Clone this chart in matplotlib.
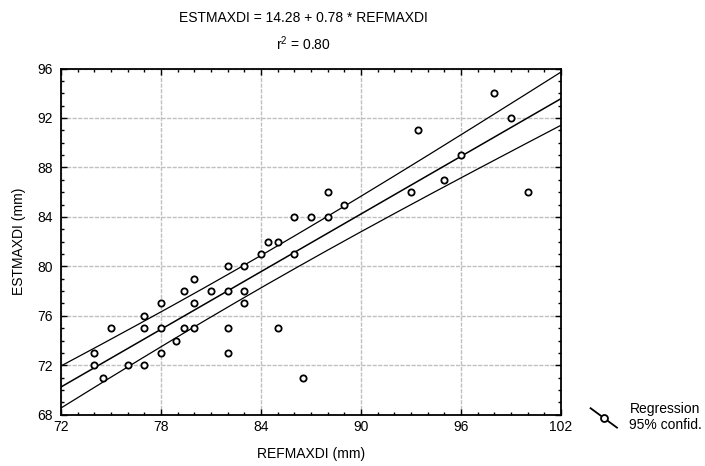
import numpy as np
import matplotlib
matplotlib.use("Agg")
from matplotlib import pyplot as plt
from matplotlib.lines import Line2D
from matplotlib.ticker import MultipleLocator

plt.rcParams['font.family'] = ['Liberation Sans', 'DejaVu Sans']
plt.rcParams['mathtext.fontset'] = 'custom'
plt.rcParams['mathtext.rm'] = 'Liberation Sans'

# data
refmaxdi = [74, 74, 74.5, 75, 76, 77, 77, 77, 78, 78, 78, 78.9, 79.4, 79.4,
            80, 80, 80, 81, 82, 82, 82, 82, 83, 83, 83, 84, 84.4, 85, 85,
            86, 86, 86.5, 87, 88, 88, 89, 93, 93.4, 95, 96, 98, 99, 100]
estmaxdi = [73, 72, 71, 75, 72, 76, 75, 72, 77, 75, 73, 74, 78, 75,
            79, 77, 75, 78, 80, 78, 75, 73, 80, 78, 77, 81, 82, 82, 75,
            84, 81, 71, 84, 86, 84, 85, 86, 91, 87, 89, 94, 92, 86]
intercept = 14.3
slope = 0.777
# half width of the 95% band read at both ends of the x range
band_ends = [1.7, 2.15]
title_lines = ["ESTMAXDI = 14.28 + 0.78 * REFMAXDI", r"r$^2$ = 0.80"]

FS = 10


class DiagHandler:
    # draws the slanted legend glyph like the original
    def legend_artist(self, legend, orig_handle, fontsize, handlebox):
        x0, y0 = handlebox.xdescent, handlebox.ydescent
        w, h = handlebox.width, handlebox.height
        ln = Line2D([x0, x0 + w], [y0 + h + 3, y0 - 4], color='black', lw=1.3)
        mk = Line2D([x0 + w / 2], [y0 + h / 2 - 0.5], marker='o', ms=5,
                    mfc='white', mec='black', mew=1.3, ls='none')
        handlebox.add_artist(ln)
        handlebox.add_artist(mk)
        return ln


x = np.array(refmaxdi, dtype=float)
y = np.array(estmaxdi, dtype=float)
xbar = x.mean()

# confidence band has the usual hyperbolic shape hw^2 = A + B*(x - xbar)^2
d0, d1 = (72 - xbar) ** 2, (102 - xbar) ** 2
B = (band_ends[1] ** 2 - band_ends[0] ** 2) / (d1 - d0)
A = band_ends[0] ** 2 - B * d0

xs = np.linspace(72, 102, 200)
fit = intercept + slope * xs
band = np.sqrt(A + B * (xs - xbar) ** 2)

fig = plt.figure(figsize=(7.05, 4.66), dpi=100)
ax = fig.add_axes([0.0865, 0.11, 0.709, 0.743])

ax.plot(xs, fit, color='black', lw=1.1)
ax.plot(xs, fit + band, color='black', lw=0.9)
ax.plot(xs, fit - band, color='black', lw=0.9)
ax.plot(x, y, ls='none', marker='o', ms=4.5, mfc='white', mec='black', mew=1.3)

ax.set_xlim(72, 102)
ax.set_ylim(68, 96)
ax.xaxis.set_major_locator(MultipleLocator(6))
ax.xaxis.set_minor_locator(MultipleLocator(1))
ax.yaxis.set_major_locator(MultipleLocator(4))
ax.yaxis.set_minor_locator(MultipleLocator(1))
ax.tick_params(which='both', direction='in', top=True, right=True,
               labelsize=FS, colors='black')
ax.tick_params(which='major', length=4, width=1)
ax.tick_params(which='minor', length=2.5, width=1)
ax.tick_params(axis='x', which='major', pad=4)
ax.tick_params(axis='y', which='major', pad=6)
for sp in ax.spines.values():
    sp.set_linewidth(1.3)
ax.grid(True, which='major', color='#c0c0c0', ls=(0, (3, 1)), lw=1)
ax.set_axisbelow(True)

ax.set_xlabel("REFMAXDI (mm)", fontsize=FS, labelpad=9)
ax.set_ylabel("ESTMAXDI (mm)", fontsize=FS, labelpad=8)

fig.text(0.431, 0.962, title_lines[0], ha='center', va='center', fontsize=FS)
fig.text(0.431, 0.906, title_lines[1], ha='center', va='center', fontsize=FS)

h = Line2D([], [])
fig.legend([h], ["Regression\n95% confid."], handler_map={Line2D: DiagHandler()},
           loc='center left', bbox_to_anchor=(0.82, 0.106), frameon=False,
           fontsize=FS, handlelength=1.9, handletextpad=0.9, labelspacing=0)

fig.savefig("out.png", dpi=100)
